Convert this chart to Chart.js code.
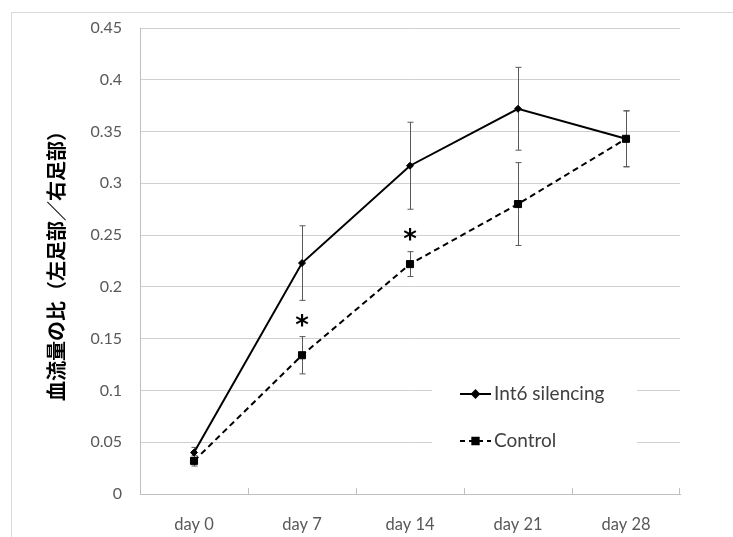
<!DOCTYPE html>
<html>
<head>
<meta charset="utf-8">
<script src="https://cdn.jsdelivr.net/npm/chart.js@4.4.1/dist/chart.umd.min.js"></script>
<style>
  html, body { margin: 0; padding: 0; background: #fff; }
  #wrap { position: relative; width: 733px; height: 537px; overflow: hidden; }
  #frame { position: absolute; left: 11px; top: 12px; width: 800px; height: 600px; border: 1px solid #d9d9d9; box-sizing: border-box; }
  canvas { position: absolute; left: 0; top: 0; }
</style>
</head>
<body>
<div id="wrap">
  <div id="frame"></div>
  <canvas id="myChart" width="733" height="537"></canvas>
</div>
<script>
const days = ['day 0', 'day 7', 'day 14', 'day 21', 'day 28'];
const int6Values = [0.040, 0.223, 0.317, 0.372, 0.343];
const int6Err = [0.005, 0.036, 0.042, 0.040, 0.027];
const controlValues = [0.032, 0.134, 0.222, 0.280, 0.343];
const controlErr = [0.005, 0.018, 0.012, 0.040, 0.027];
const starDays = [1, 2];
const starValues = [0.165, 0.248];
const yTicks = [0, 0.05, 0.1, 0.15, 0.2, 0.25, 0.3, 0.35, 0.4, 0.45];

const errorBars = {
    id: 'errorBars',
    beforeDatasetsDraw(chart) {
        const ctx = chart.ctx;
        const x = chart.scales.x;
        const y = chart.scales.y;
        const sets = [[int6Values, int6Err], [controlValues, controlErr]];
        ctx.save();
        ctx.strokeStyle = '#595959';
        ctx.lineWidth = 1;
        for (const [vals, errs] of sets) {
            for (let i = 0; i < vals.length; i++) {
                const px = Math.round(x.getPixelForValue(i)) + 0.5;
                const top = y.getPixelForValue(vals[i] + errs[i]);
                const bot = y.getPixelForValue(vals[i] - errs[i]);
                ctx.beginPath();
                ctx.moveTo(px, top); ctx.lineTo(px, bot);
                ctx.moveTo(px - 3, top); ctx.lineTo(px + 3, top);
                ctx.moveTo(px - 3, bot); ctx.lineTo(px + 3, bot);
                ctx.stroke();
            }
        }
        ctx.restore();
    },
    afterDraw(chart) {
        const ctx = chart.ctx;
        const x = chart.scales.x;
        const y = chart.scales.y;
        const area = chart.chartArea;
        ctx.save();
        // little upward ticks on the category axis
        ctx.strokeStyle = '#bfbfbf';
        ctx.lineWidth = 1;
        for (let i = 1; i <= days.length; i++) {
            const bx = i < days.length
                ? Math.round((x.getPixelForValue(i - 1) + x.getPixelForValue(i)) / 2) + 0.5
                : Math.round(area.right) - 0.5;
            ctx.beginPath();
            ctx.moveTo(bx, area.bottom);
            ctx.lineTo(bx, area.bottom - 6);
            ctx.stroke();
        }
        // asterisks
        ctx.fillStyle = '#000';
        ctx.font = 'bold 26px "DejaVu Sans"';
        ctx.textAlign = 'center';
        ctx.textBaseline = 'middle';
        for (let i = 0; i < starDays.length; i++) {
            ctx.fillText('*', x.getPixelForValue(starDays[i]), y.getPixelForValue(starValues[i]) + 4);
        }
        // legend box inside the plot
        ctx.fillStyle = '#fff';
        ctx.fillRect(432, 366, 205, 92);
        const entries = [
            { label: 'Int6 silencing', dash: [], style: 'rectRot', r: 3.5, ly: 394 },
            { label: 'Control', dash: [5, 4], style: 'rect', r: 4.5, ly: 441 }
        ];
        for (const e of entries) {
            ctx.strokeStyle = '#000';
            ctx.lineWidth = 2;
            ctx.setLineDash(e.dash);
            ctx.beginPath();
            ctx.moveTo(460, e.ly); ctx.lineTo(491, e.ly);
            ctx.stroke();
            ctx.setLineDash([]);
            Chart.helpers.drawPoint(ctx, { pointStyle: e.style, radius: e.r, borderWidth: 1, rotation: 0 }, 475.5, e.ly);
            ctx.fillStyle = '#000';
            ctx.fill();
            ctx.fillStyle = '#404040';
            ctx.font = '19px Lato';
            ctx.textAlign = 'left';
            ctx.textBaseline = 'middle';
            ctx.fillText(e.label, 494, e.ly);
        }
        ctx.restore();
    }
};

new Chart(document.getElementById('myChart'), {
    type: 'line',
    data: {
        labels: days,
        datasets: [{
            label: 'Int6 silencing',
            data: int6Values,
            borderColor: '#000',
            backgroundColor: '#000',
            borderWidth: 2,
            pointStyle: 'rectRot',
            pointRadius: 3.5,
            pointBorderWidth: 1,
            tension: 0
        }, {
            label: 'Control',
            data: controlValues,
            borderColor: '#000',
            backgroundColor: '#000',
            borderWidth: 2,
            borderDash: [6, 4],
            pointStyle: 'rect',
            pointRadius: 5,
            pointBorderWidth: 1,
            tension: 0
        }]
    },
    options: {
        responsive: false,
        animation: false,
        layout: { padding: { left: 0, right: 53, top: 28, bottom: 0 } },
        plugins: {
            legend: { display: false },
            tooltip: { enabled: false }
        },
        scales: {
            x: {
                offset: true,
                grid: { display: false, drawTicks: false },
                border: { color: '#bfbfbf', width: 1 },
                ticks: { color: '#595959', font: { family: 'Lato', size: 16.5 }, padding: 21 },
                afterFit: s => { s.height = 43; }
            },
            y: {
                min: 0,
                max: 0.45,
                afterBuildTicks: s => { s.ticks = yTicks.map(v => ({ value: v })); },
                grid: { color: '#d0d0d0', lineWidth: 1, drawTicks: false },
                border: { color: '#bfbfbf', width: 1 },
                ticks: {
                    color: '#595959',
                    font: { family: 'Lato', size: 16 },
                    padding: 18,
                    callback: v => String(Number(v.toFixed(2)))
                },
                title: {
                    display: true,
                    text: '血流量の比（左足部／右足部）',
                    color: '#000',
                    font: { family: '"Noto Sans CJK JP"', size: 20, weight: 'bold' },
                    padding: { top: 44, bottom: 0 }
                },
                afterFit: s => { s.width = 140; }
            }
        }
    },
    plugins: [errorBars]
});
</script>
</body>
</html>
